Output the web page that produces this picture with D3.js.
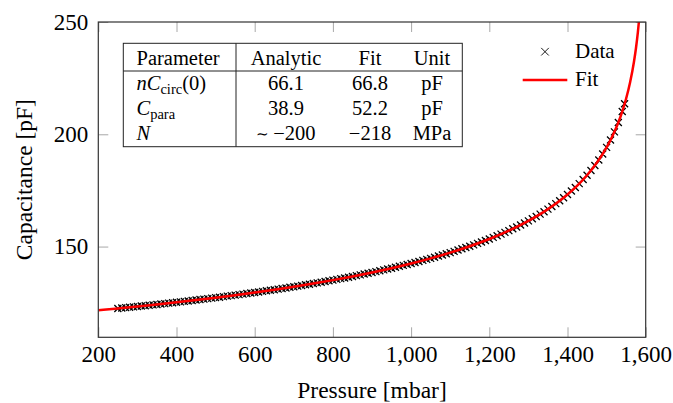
<!DOCTYPE html>
<html>
<head>
<meta charset="utf-8">
<script src="https://cdn.jsdelivr.net/npm/d3@7"></script>
<style>
  html, body { margin: 0; padding: 0; background: #fff; }
  svg { display: block; font-family: 'Liberation Serif', 'Times New Roman', serif; }
  .tick line { stroke: #a8a8a8; stroke-width: 1; }
  .tick text { fill: #000; font-size: 23px; font-family: 'Liberation Serif', 'Times New Roman', serif; }
</style>
</head>
<body>
<svg id="chart" width="673" height="403"></svg>
<script>
/* ── Data ─────────────────────────────────────────────────────────────── */
const dataP = [
  250, 260, 270, 280, 290, 300, 310, 320, 330, 340, 350, 360, 370, 380, 390,
  400, 410, 420, 430, 440, 450, 460, 470, 480, 490, 500, 510, 520, 530, 540,
  550, 560, 570, 580, 590, 600, 610, 620, 630, 640, 650, 660, 670, 680, 690,
  700, 710, 720, 730, 740, 750, 760, 770, 780, 790, 800, 810, 820, 830, 840,
  850, 860, 870, 880, 890, 900, 910, 920, 930, 940, 950, 960, 970, 980, 990,
  1000, 1010, 1020, 1030, 1040, 1050, 1060, 1070, 1080, 1090, 1100, 1110, 1120, 1130, 1140,
  1150, 1160, 1170, 1180, 1190, 1200, 1210, 1220, 1230, 1240, 1250, 1260, 1270, 1280, 1290,
  1300, 1310, 1320, 1330, 1340, 1350, 1360, 1370, 1380, 1390, 1400, 1410, 1420, 1430, 1440,
  1450, 1460, 1470, 1480, 1490, 1500, 1510, 1520, 1530, 1540, 1546
];
const dataC = [
  122.45, 122.62, 122.80, 122.97, 123.15, 123.32, 123.50, 123.68, 123.87, 124.05, 124.23, 124.42, 124.61, 124.81, 125.00,
  125.19, 125.39, 125.59, 125.79, 125.99, 126.19, 126.40, 126.61, 126.83, 127.04, 127.25, 127.47, 127.70, 127.92, 128.15,
  128.37, 128.61, 128.84, 129.08, 129.31, 129.55, 129.80, 130.05, 130.30, 130.55, 130.80, 131.06, 131.33, 131.59, 131.86,
  132.12, 132.40, 132.69, 132.97, 133.26, 133.54, 133.84, 134.15, 134.45, 134.76, 135.06, 135.39, 135.72, 136.04, 136.37,
  136.70, 137.05, 137.40, 137.76, 138.11, 138.46, 138.84, 139.22, 139.61, 139.99, 140.37, 140.79, 141.21, 141.62, 142.04,
  142.46, 142.92, 143.38, 143.84, 144.30, 144.76, 145.27, 145.78, 146.28, 146.79, 147.30, 147.87, 148.44, 149.01, 149.58,
  150.15, 150.77, 151.41, 152.07, 152.72, 153.38, 154.08, 154.80, 155.55, 156.31, 157.10, 157.91, 158.75, 159.62, 160.52,
  161.45, 162.40, 163.42, 164.46, 165.54, 166.68, 167.86, 169.11, 170.41, 171.77, 173.20, 174.72, 176.32, 178.03, 179.84,
  181.78, 183.87, 186.12, 188.56, 191.22, 194.16, 197.42, 201.09, 205.27, 210.13, 213.6
];
const fitP = [200, 250, 300, 350, 400, 450, 500, 550, 600, 650, 700, 750, 800, 850, 900, 950, 1000,
  1050, 1100, 1150, 1200, 1250, 1300, 1350, 1400, 1425, 1450, 1475, 1500, 1510, 1520, 1530, 1540,
  1550, 1560, 1570, 1575, 1580, 1585];
const fitC = [121.61, 122.45, 123.32, 124.23, 125.19, 126.19, 127.25, 128.37, 129.55, 130.80, 132.12,
  133.54, 135.06, 136.70, 138.46, 140.37, 142.46, 144.76, 147.30, 150.15, 153.38, 157.10, 161.45,
  166.68, 173.20, 177.16, 181.78, 187.31, 194.16, 197.42, 201.09, 205.27, 210.13, 215.92, 223.04,
  232.31, 238.21, 245.46, 254.87];

const xTicks = [200, 400, 600, 800, 1000, 1200, 1400, 1600];
const yTicks = [150, 200, 250];
const xDomain = [200, 1600];
const yDomain = [109.6, 250];

const tableHead = ['Parameter', 'Analytic', 'Fit', 'Unit'];
const tableAnalytic = ['66.1', '38.9', '\u2212200'];
const tableFit = ['66.8', '52.2', '\u2212218'];
const tableUnit = ['pF', 'pF', 'MPa'];

/* ── Layout ───────────────────────────────────────────────────────────── */
const W = 673, H = 403;
const M = { l: 98.3, r: 27.3, t: 22, b: 65.7 };
const svg = d3.select('#chart');

const x = d3.scaleLinear().domain(xDomain).range([M.l, W - M.r]);
const y = d3.scaleLinear().domain(yDomain).range([H - M.b, M.t]);

svg.append('defs').append('clipPath').attr('id', 'plot-clip')
  .append('rect').attr('x', M.l).attr('y', M.t)
  .attr('width', W - M.r - M.l).attr('height', H - M.b - M.t);

/* ── Axes (ticks point inward, mirrored on top/right) ─────────────────── */
const TL = 10;
svg.append('g').attr('transform', `translate(0,${H - M.b})`)
  .call(d3.axisBottom(x).tickValues(xTicks).tickSize(-TL).tickPadding(8).tickFormat(d3.format(',')))
  .call(g => g.select('.domain').remove());
svg.append('g').attr('transform', `translate(${M.l},0)`)
  .call(d3.axisLeft(y).tickValues(yTicks).tickSize(-TL).tickPadding(10).tickFormat(d3.format('d')))
  .call(g => g.select('.domain').remove());
svg.append('g').attr('transform', `translate(0,${M.t})`)
  .call(d3.axisTop(x).tickValues(xTicks).tickSize(-TL).tickFormat(''))
  .call(g => g.select('.domain').remove());
svg.append('g').attr('transform', `translate(${W - M.r},0)`)
  .call(d3.axisRight(y).tickValues(yTicks).tickSize(-TL).tickFormat(''))
  .call(g => g.select('.domain').remove());

/* ── Marks ────────────────────────────────────────────────────────────── */
const plot = svg.append('g').attr('clip-path', 'url(#plot-clip)');
const cross = (cx, cy, r) => `M${cx - r},${cy - r}L${cx + r},${cy + r}M${cx - r},${cy + r}L${cx + r},${cy - r}`;

plot.append('path')
  .attr('d', dataP.map((p, i) => cross(x(p), y(dataC[i]), 3.5)).join(''))
  .attr('fill', 'none').attr('stroke', '#000').attr('stroke-width', 1.3);

const fitLine = d3.line().x(d => x(d[0])).y(d => y(d[1])).curve(d3.curveMonotoneX);
plot.append('path')
  .datum(fitP.map((p, i) => [p, fitC[i]]))
  .attr('d', fitLine)
  .attr('fill', 'none').attr('stroke', '#ff0000').attr('stroke-width', 2.5);

/* frame */
svg.append('rect').attr('x', M.l).attr('y', M.t)
  .attr('width', W - M.r - M.l).attr('height', H - M.b - M.t)
  .attr('fill', 'none').attr('stroke', '#333').attr('stroke-width', 1.2);

/* ── Axis labels ──────────────────────────────────────────────────────── */
svg.append('text').attr('x', (M.l + W - M.r) / 2).attr('y', 398)
  .attr('text-anchor', 'middle').attr('font-size', 23.5).text('Pressure [mbar]');
svg.append('text').attr('transform', `translate(32,${(M.t + H - M.b) / 2}) rotate(-90)`)
  .attr('text-anchor', 'middle').attr('font-size', 23.5).text('Capacitance [pF]');

/* ── Legend ───────────────────────────────────────────────────────────── */
const leg = svg.append('g').attr('font-size', 21);
leg.append('path').attr('d', cross(545, 51.7, 3.8))
  .attr('stroke', '#000').attr('stroke-width', 0.9);
leg.append('text').attr('x', 575).attr('y', 58).text('Data');
leg.append('line').attr('x1', 522.7).attr('x2', 567.3).attr('y1', 80).attr('y2', 80)
  .attr('stroke', '#ff0000').attr('stroke-width', 2.7);
leg.append('text').attr('x', 575).attr('y', 86).text('Fit');

/* ── Parameter table ──────────────────────────────────────────────────── */
const tb = svg.append('g').attr('font-size', 20.5);
const T = { x0: 123.3, x1: 462.3, y0: 43.3, y1: 146.7, hy: 71, sep: 236 };
tb.append('rect').attr('x', T.x0).attr('y', T.y0).attr('width', T.x1 - T.x0).attr('height', T.y1 - T.y0)
  .attr('fill', '#fff').attr('stroke', '#222').attr('stroke-width', 1);
tb.append('line').attr('x1', T.x0).attr('x2', T.x1).attr('y1', T.hy).attr('y2', T.hy)
  .attr('stroke', '#222').attr('stroke-width', 1);
tb.append('line').attr('x1', T.sep).attr('x2', T.sep).attr('y1', T.y0).attr('y2', T.y1)
  .attr('stroke', '#222').attr('stroke-width', 1);

const colX = [136.5, 286, 370, 432];
const headY = 64.5, rowY = [90, 114.5, 139.5];
tableHead.forEach((h, i) => tb.append('text').attr('x', colX[i]).attr('y', headY)
  .attr('text-anchor', i ? 'middle' : 'start').text(h));

// first column: math symbols
const p1 = tb.append('text').attr('x', colX[0]).attr('y', rowY[0]);
p1.append('tspan').attr('font-style', 'italic').text('nC');
p1.append('tspan').attr('font-size', 14.5).attr('dy', 4).text('circ');
p1.append('tspan').attr('dy', -4).text('(0)');
const p2 = tb.append('text').attr('x', colX[0]).attr('y', rowY[1]);
p2.append('tspan').attr('font-style', 'italic').text('C');
p2.append('tspan').attr('font-size', 14.5).attr('dy', 4).text('para');
tb.append('text').attr('x', colX[0]).attr('y', rowY[2]).attr('font-style', 'italic').text('N');

[tableAnalytic, tableFit, tableUnit].forEach((col, c) => col.forEach((v, r) => {
  const t = tb.append('text').attr('x', colX[c + 1]).attr('y', rowY[r]).attr('text-anchor', 'middle');
  if (c === 0 && r === 2) t.append('tspan').attr('font-size', 15).attr('dy', -1).text('\u223C ');
  t.append('tspan').attr('dy', c === 0 && r === 2 ? 1 : 0).text(v);
}));
</script>
</body>
</html>
